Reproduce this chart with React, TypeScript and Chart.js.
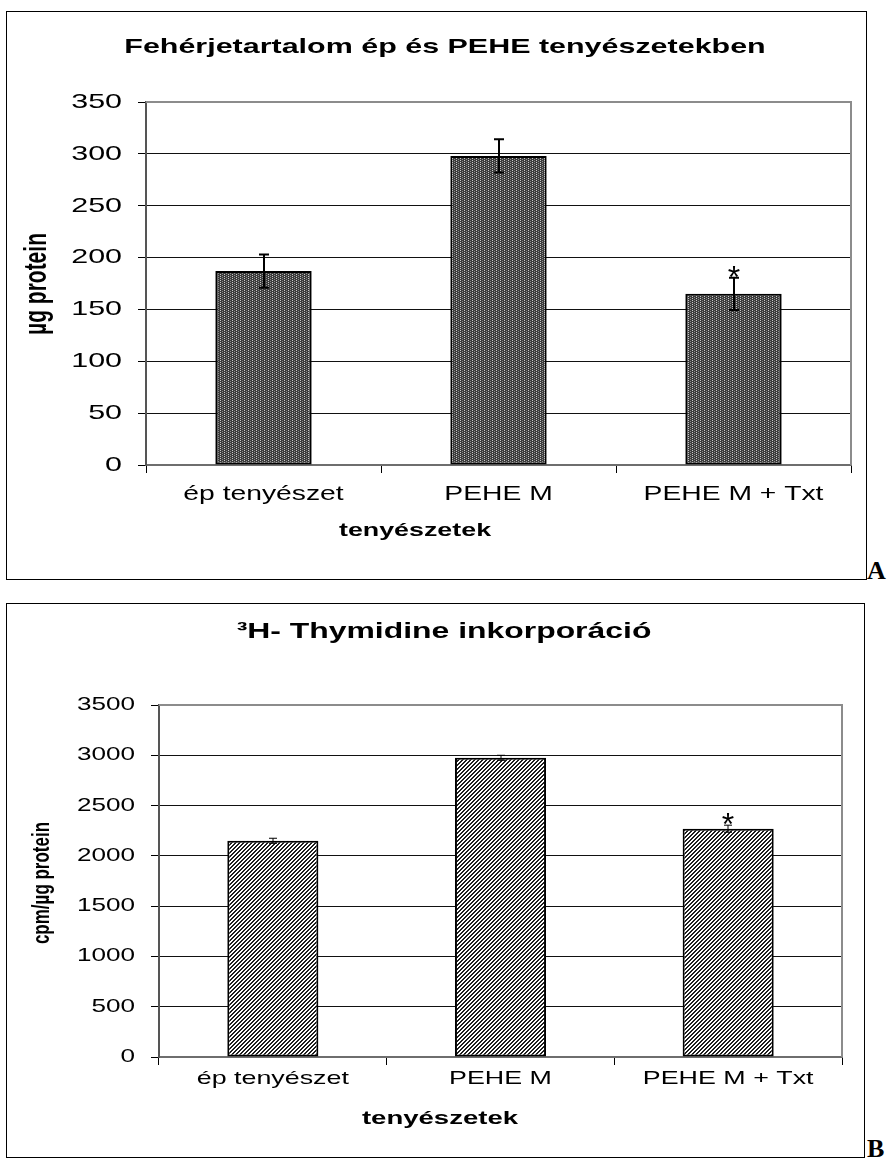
import React, { useEffect, useRef } from 'react';
import { Chart, registerables } from 'chart.js';

Chart.register(...registerables);

// Culture groups shared by both panels
const categories = ['ép tenyészet', 'PEHE M', 'PEHE M + Txt'];

// Panel A: protein content (µg)
const proteinValues = [187, 298, 165];
const proteinErrors = [16, 16, 15.5];
const proteinTickLabels = [0, 50, 100, 150, 200, 250, 300, 350];

// Panel B: 3H-thymidine incorporation (cpm/µg protein)
const thymidineValues = [2150, 2975, 2270];
const thymidineErrors = [25, 25, 35];
const thymidineTickLabels = [0, 500, 1000, 1500, 2000, 2500, 3000, 3500];

// Significance markers placed above the error bars
const significance = ['', '', '*'];

const SANS = "'Liberation Sans', Arial, sans-serif";
// the chart text is set in a horizontally widened face
const STRETCH = 1.45;

function drawText(
  ctx: CanvasRenderingContext2D,
  text: string,
  x: number,
  y: number,
  size: number,
  bold: boolean,
  align: CanvasTextAlign,
  rotate = false,
) {
  ctx.save();
  ctx.translate(x, y);
  ctx.scale(STRETCH, 1);
  if (rotate) ctx.rotate(-Math.PI / 2);
  ctx.font = `${bold ? 'bold ' : ''}${size}px ${SANS}`;
  ctx.fillStyle = '#000';
  ctx.textAlign = align;
  ctx.textBaseline = 'middle';
  ctx.fillText(text, 0, 0);
  ctx.restore();
}

function makePattern(kind: 'dots' | 'hatch'): CanvasPattern | string {
  const tile = document.createElement('canvas');
  tile.width = 4;
  tile.height = 4;
  const g = tile.getContext('2d');
  if (!g) return '#666';
  if (kind === 'dots') {
    g.fillStyle = '#3c3c3c';
    g.fillRect(0, 0, 4, 4);
    g.fillStyle = '#c8c8c8';
    g.fillRect(1, 0, 1, 1);
    g.fillRect(1, 2, 1, 1);
    g.fillStyle = '#8a8a8a';
    g.fillRect(3, 1, 1, 1);
    g.fillRect(3, 3, 1, 1);
  } else {
    g.fillStyle = '#ffffff';
    g.fillRect(0, 0, 4, 4);
    g.fillStyle = '#1e1e1e';
    for (let y = 0; y < 4; y++) {
      for (let x = 0; x < 4; x++) {
        const d = (x + y) % 4;
        if (d === 2 || d === 3) g.fillRect(x, y, 1, 1);
      }
    }
  }
  const p = g.createPattern(tile, 'repeat');
  return p || '#666';
}

type PanelSpec = {
  width: number;
  height: number;
  values: number[];
  errors: number[];
  tickLabels: number[];
  pattern: 'dots' | 'hatch';
  title: string;
  titleFont: number;
  titlePos: [number, number];
  yTitle: string;
  yTitleFont: number;
  yTitlePos: [number, number];
  xTitle: string;
  xTitleFont: number;
  xTitlePos: [number, number];
  yTickFont: number;
  yTickRight: number;
  xTickFont: number;
  xTickY: number;
  padTop: number;
  padRight: number;
  yWidth: number;
  xHeight: number;
  barPct: number;
  capHalf: number;
  errWidth: number;
  starFont: number;
  starGap: number;
};

function Panel({ spec }: { spec: PanelSpec }) {
  const ref = useRef<HTMLCanvasElement | null>(null);

  useEffect(() => {
    const canvas = ref.current;
    if (!canvas) return;

    const tmin = spec.tickLabels[0];
    const tmax = spec.tickLabels[spec.tickLabels.length - 1];
    const step = spec.tickLabels[1] - spec.tickLabels[0];

    const marks = {
      id: 'frameAndMarks',
      afterDatasetsDraw(chart: any) {
        const { ctx, chartArea } = chart;
        const x = chart.scales.x;
        const y = chart.scales.y;
        ctx.save();
        // gray plot frame on top and right
        ctx.strokeStyle = '#8c8c8c';
        ctx.lineWidth = 2;
        ctx.beginPath();
        ctx.moveTo(chartArea.left, chartArea.top);
        ctx.lineTo(chartArea.right, chartArea.top);
        ctx.lineTo(chartArea.right, chartArea.bottom);
        ctx.stroke();

        // error bars with significance markers
        ctx.strokeStyle = '#000';
        ctx.lineWidth = spec.errWidth;
        spec.values.forEach((v, i) => {
          const cx = Math.round(x.getPixelForValue(i));
          const top = y.getPixelForValue(v + spec.errors[i]);
          const bot = y.getPixelForValue(v - spec.errors[i]);
          ctx.beginPath();
          ctx.moveTo(cx, top);
          ctx.lineTo(cx, bot);
          ctx.moveTo(cx - spec.capHalf, top);
          ctx.lineTo(cx + spec.capHalf, top);
          ctx.moveTo(cx - spec.capHalf, bot);
          ctx.lineTo(cx + spec.capHalf, bot);
          ctx.stroke();
          if (significance[i]) {
            ctx.save();
            ctx.translate(cx, top - spec.starGap + spec.starFont * 0.57);
            ctx.font = `${spec.starFont}px ${SANS}`;
            ctx.fillStyle = '#000';
            ctx.textAlign = 'center';
            ctx.textBaseline = 'alphabetic';
            ctx.fillText(significance[i], 0, 0);
            ctx.restore();
          }
        });
        ctx.restore();
      },
      afterDraw(chart: any) {
        const { ctx } = chart;
        const x = chart.scales.x;
        const y = chart.scales.y;
        // value axis labels
        spec.tickLabels.forEach((t) => {
          drawText(ctx, String(t), spec.yTickRight, y.getPixelForValue(t), spec.yTickFont, false, 'right');
        });
        // category labels
        categories.forEach((c, i) => {
          drawText(ctx, c, x.getPixelForValue(i), spec.xTickY, spec.xTickFont, false, 'center');
        });
        drawText(ctx, spec.title, spec.titlePos[0], spec.titlePos[1], spec.titleFont, true, 'center');
        drawText(ctx, spec.xTitle, spec.xTitlePos[0], spec.xTitlePos[1], spec.xTitleFont, true, 'center');
        drawText(ctx, spec.yTitle, spec.yTitlePos[0], spec.yTitlePos[1], spec.yTitleFont, true, 'center', true);
      },
    };

    const chart = new Chart(canvas, {
      type: 'bar',
      data: {
        labels: categories,
        datasets: [
          {
            data: spec.values,
            backgroundColor: makePattern(spec.pattern) as any,
            borderColor: '#000',
            borderWidth: 2,
            borderSkipped: false,
            categoryPercentage: 1,
            barPercentage: spec.barPct,
          },
        ],
      },
      options: {
        responsive: false,
        animation: false,
        devicePixelRatio: 1,
        layout: { padding: { top: spec.padTop, right: spec.padRight, left: 0, bottom: 0 } },
        plugins: { legend: { display: false }, tooltip: { enabled: false }, title: { display: false } },
        scales: {
          x: {
            ticks: { display: false },
            grid: { drawOnChartArea: false, tickLength: 8, color: '#000', offset: true, lineWidth: 1 },
            border: { color: '#6e6e6e', width: 2 },
            afterFit: (s: any) => {
              s.height = spec.xHeight;
            },
          },
          y: {
            min: tmin,
            max: tmax,
            ticks: { display: false, stepSize: step },
            grid: {
              color: (c: any) =>
                c.tick && (c.tick.value === tmax || c.tick.value === tmin) ? 'rgba(0,0,0,0)' : '#111',
              tickColor: '#000',
              tickLength: 8,
              lineWidth: 1,
            },
            border: { color: '#555', width: 2 },
            afterFit: (s: any) => {
              s.width = spec.yWidth;
            },
          },
        },
      },
      plugins: [marks],
    });

    return () => chart.destroy();
  }, [spec]);

  return (
    <canvas
      ref={ref}
      width={spec.width}
      height={spec.height}
      style={{ display: 'block', width: spec.width, height: spec.height }}
    />
  );
}

const panelA: PanelSpec = {
  width: 859,
  height: 567,
  values: proteinValues,
  errors: proteinErrors,
  tickLabels: proteinTickLabels,
  pattern: 'dots',
  title: 'Fehérjetartalom ép és PEHE tenyészetekben',
  titleFont: 21,
  titlePos: [438, 35],
  yTitle: 'µg protein',
  yTitleFont: 21,
  yTitlePos: [31, 272],
  xTitle: 'tenyészetek',
  xTitleFont: 18.5,
  xTitlePos: [408, 519],
  yTickFont: 21,
  yTickRight: 115,
  xTickFont: 19.5,
  xTickY: 483,
  padTop: 90,
  padRight: 15,
  yWidth: 139,
  xHeight: 114,
  barPct: 0.41,
  capHalf: 5,
  errWidth: 2,
  starFont: 32,
  starGap: 8,
};

const panelB: PanelSpec = {
  width: 857,
  height: 553,
  values: thymidineValues,
  errors: thymidineErrors,
  tickLabels: thymidineTickLabels,
  pattern: 'hatch',
  title: '³H- Thymidine inkorporáció',
  titleFont: 22,
  titlePos: [437, 28],
  yTitle: 'cpm/µg protein',
  yTitleFont: 17,
  yTitlePos: [35, 279],
  xTitle: 'tenyészetek',
  xTitleFont: 19,
  xTitlePos: [433, 515],
  yTickFont: 18,
  yTickRight: 128,
  xTickFont: 18.5,
  xTickY: 475,
  padTop: 101,
  padRight: 22,
  yWidth: 152,
  xHeight: 100,
  barPct: 0.4,
  capHalf: 4,
  errWidth: 1,
  starFont: 32,
  starGap: 8,
};

const letterStyle: React.CSSProperties = {
  position: 'absolute',
  fontFamily: "'Liberation Serif', 'Times New Roman', serif",
  fontWeight: 'bold',
  fontSize: 26,
  lineHeight: '26px',
  color: '#000',
};

export default function App() {
  return (
    <div style={{ position: 'absolute', left: 0, top: 0, width: 887, height: 1160, background: '#fff', overflow: 'hidden' }}>
      <div style={{ position: 'absolute', left: 6, top: 11, width: 859, height: 567, border: '1px solid #000' }}>
        <Panel spec={panelA} />
      </div>
      <div style={{ ...letterStyle, left: 867, top: 558 }}>A</div>
      <div style={{ position: 'absolute', left: 6, top: 603, width: 857, height: 553, border: '1px solid #000' }}>
        <Panel spec={panelB} />
      </div>
      <div style={{ ...letterStyle, left: 867, top: 1136 }}>B</div>
    </div>
  );
}
